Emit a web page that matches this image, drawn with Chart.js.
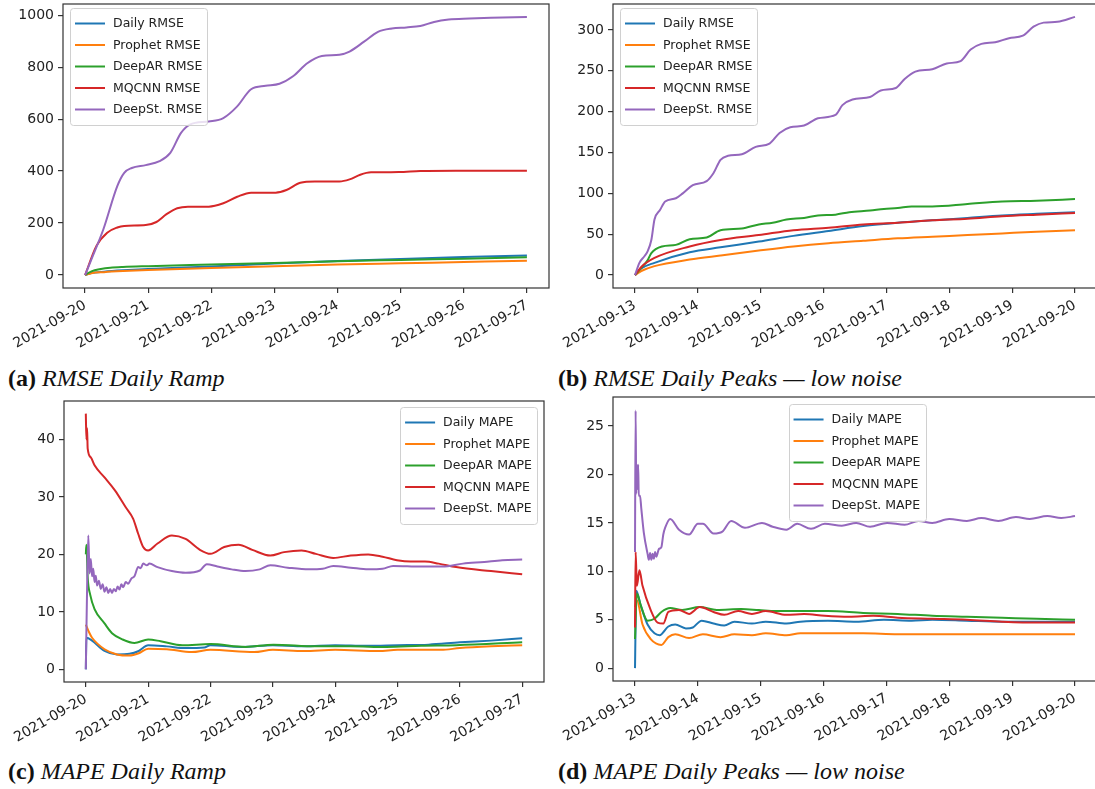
<!DOCTYPE html>
<html>
<head>
<meta charset="utf-8">
<script src="https://cdn.jsdelivr.net/npm/chart.js@4.4.1/dist/chart.umd.min.js"></script>
<style>
  html, body { margin: 0; padding: 0; background: #fff; }
  body { position: relative; width: 1095px; height: 789px; overflow: hidden; }
  canvas { position: absolute; display: block; }
  .cap { position: absolute; font-family: "Liberation Serif", "Times New Roman", serif; font-size: 24px;
         line-height: 1; color: #111; white-space: nowrap; }
  .cap b { font-weight: bold; }
  .cap i { font-style: italic; }
</style>
</head>
<body>
<canvas id="chartA" width="550" height="350" style="left:0;top:0"></canvas>
<canvas id="chartB" width="550" height="350" style="left:550px;top:0"></canvas>
<canvas id="chartC" width="550" height="350" style="left:0;top:393px"></canvas>
<canvas id="chartD" width="550" height="350" style="left:550px;top:393px"></canvas>
<div class="cap" style="left:8px;top:366px"><b>(a)</b> <i>RMSE Daily Ramp</i></div>
<div class="cap" style="left:558px;top:366px"><b>(b)</b> <i>RMSE Daily Peaks — low noise</i></div>
<div class="cap" style="left:8px;top:759px"><b>(c)</b> <i>MAPE Daily Ramp</i></div>
<div class="cap" style="left:558px;top:759px"><b>(d)</b> <i>MAPE Daily Peaks — low noise</i></div>
<script>
// ---- tick labels --------------------------------------------------------
const dayTicks = [0, 1, 2, 3, 4, 5, 6, 7];
const rampDates = ['2021-09-20', '2021-09-21', '2021-09-22', '2021-09-23', '2021-09-24', '2021-09-25', '2021-09-26', '2021-09-27'];
const peakDates = ['2021-09-13', '2021-09-14', '2021-09-15', '2021-09-16', '2021-09-17', '2021-09-18', '2021-09-19', '2021-09-20'];
const rmseTicksA = [0, 200, 400, 600, 800, 1000];
const rmseTicksB = [0, 50, 100, 150, 200, 250, 300];
const mapeTicksC = [0, 10, 20, 30, 40];
const mapeTicksD = [0, 5, 10, 15, 20, 25];

const models = ['Daily', 'Prophet', 'DeepAR', 'MQCNN', 'DeepSt.'];

// ---- series: [days since start, value] ----------------------------------
// (a) RMSE, daily ramp
const rampRmseDaily   = [[0,0],[0.1,8],[0.3,13],[0.6,18],[1,23],[2,33],[3,44],[4,54],[5,62],[6,69],[7,75]];
const rampRmseProphet = [[0,0],[0.1,7],[0.3,11],[0.6,15],[1,19],[2,27],[3,34],[4,40],[5,45],[6,50],[7,55]];
const rampRmseDeepAR  = [[0,0],[0.1,14],[0.25,23],[0.4,28],[0.6,31],[1,34],[2,40],[3,46],[4,53],[5,58],[6,63],[7,68]];
const rampRmseMqcnn   = [[0,0],[0.18,112],[0.35,163],[0.51,183],[0.62,189],[0.96,192],[1.13,204],[1.29,234],[1.46,257],
  [1.63,263],[1.96,263],[2.19,276],[2.41,301],[2.63,317],[3.02,317],[3.19,327],[3.41,355],[3.64,360],[4.03,360],
  [4.19,368],[4.36,386],[4.53,395],[4.97,396],[5.31,400],[5.87,401],[7,401]];
const rampRmseDeepSt  = [[0,0],[0.1,60],[0.29,176],[0.51,342],[0.62,393],[0.74,412],[0.96,423],[1.18,438],[1.35,470],
  [1.52,547],[1.66,579],[1.96,591],[2.19,604],[2.41,649],[2.63,715],[2.86,728],[3.08,736],[3.3,766],[3.52,815],
  [3.75,843],[4.03,848],[4.19,860],[4.42,898],[4.64,936],[4.86,949],[5.09,953],[5.31,958],[5.53,974],[5.76,983],
  [6.09,987],[6.43,990],[7,993]];

// (b) RMSE, daily peaks with low noise
const peakRmseDaily   = [[0,0],[0.1,8],[0.31,15],[0.87,28],[1.36,34],[1.97,41],[2.52,48],[3.08,54],[3.63,60],[4.18,64],
  [4.73,67],[5.29,70],[5.84,73],[6.39,75],[7,77]];
const peakRmseProphet = [[0,0],[0.1,5],[0.31,11],[0.87,19],[1.36,24],[1.97,30],[2.52,35],[3.08,39],[3.63,42],[4.18,45],
  [4.73,47],[5.29,49],[5.84,51],[6.39,53],[7,55]];
const peakRmseDeepAR  = [[0,0],[0.1,9],[0.2,18],[0.26,27],[0.43,35],[0.65,37],[0.87,44],[1.14,46],[1.36,55],[1.7,57],
  [1.97,62],[2.19,64],[2.41,68],[2.69,70],[2.91,73],[3.19,74],[3.41,77],[3.74,79],[3.96,81],[4.18,82],[4.4,84],
  [4.73,84],[5.29,87],[5.84,90],[6.39,91],[7,93]];
const peakRmseMqcnn   = [[0,0],[0.1,10],[0.31,21],[0.87,35],[1.36,43],[1.97,49],[2.52,55],[3.08,58],[3.63,62],[4.18,64],
  [4.73,67],[5.29,69],[5.84,72],[6.39,74],[7,76]];
const peakRmseDeepSt  = [[0,0],[0.07,15],[0.15,23],[0.2,29],[0.26,43],[0.31,68],[0.4,80],[0.48,90],[0.65,94],[0.76,100],
  [0.92,110],[1.14,115],[1.25,125],[1.36,141],[1.48,146],[1.7,148],[1.92,157],[2.14,161],[2.3,174],[2.47,181],
  [2.69,183],[2.91,192],[3.19,196],[3.3,208],[3.46,215],[3.74,218],[3.91,226],[4.15,229],[4.29,240],[4.46,249],
  [4.73,252],[4.96,259],[5.18,262],[5.34,276],[5.51,283],[5.73,285],[5.95,290],[6.17,293],[6.34,304],[6.5,309],
  [6.72,310],[7,316]];

// (c) MAPE, daily ramp
const rampMapeDaily   = [[0,0],[0.01,5.5],[0.1,5.0],[0.3,3.2],[0.5,2.6],[0.7,2.7],[0.85,3.2],[1.0,4.2],[1.3,4.0],[1.6,3.7],
  [1.9,3.8],[2.0,4.2],[2.5,3.9],[3.0,4.2],[3.5,4.0],[4.0,4.2],[4.5,4.1],[5.0,4.2],[5.5,4.3],[6.0,4.7],[6.5,5.0],[7,5.4]];
const rampMapeProphet = [[0,7.8],[0.05,6.5],[0.1,5.5],[0.3,3.5],[0.5,2.6],[0.7,2.4],[0.85,2.8],[1.0,3.6],[1.3,3.5],[1.7,3.0],
  [2.0,3.4],[2.7,3.0],[3.0,3.4],[3.5,3.2],[4.0,3.4],[4.7,3.2],[5.0,3.4],[5.7,3.4],[6.0,3.7],[6.5,4.0],[7,4.2]];
const rampMapeDeepAR  = [[0,20],[0.01,21.7],[0.03,16],[0.07,13],[0.14,10.5],[0.3,8],[0.42,6.3],[0.59,5.2],[0.78,4.6],[1.0,5.2],
  [1.2,4.9],[1.55,4.2],[2.0,4.4],[2.56,3.9],[3.01,4.3],[3.69,4.0],[4.25,4.0],[4.82,3.9],[5.38,4.1],[5.94,4.2],[7,4.7]];
const rampMapeMqcnn   = [[0,44.5],[0.01,40],[0.02,42],[0.03,38.4],[0.08,36.9],[0.14,35.5],[0.3,33.4],[0.47,31.1],[0.64,28.2],
  [0.76,26.2],[0.84,23.6],[0.92,21.3],[1.0,20.7],[1.15,21.9],[1.38,23.3],[1.6,22.7],[1.83,20.8],[2.0,20.1],[2.22,21.3],
  [2.45,21.7],[2.67,20.8],[2.96,19.8],[3.18,20.4],[3.46,20.7],[3.69,20.1],[3.97,19.4],[4.25,19.8],[4.53,20.0],
  [4.76,19.6],[4.99,19.0],[5.21,18.75],[5.44,18.75],[5.66,18.4],[5.94,17.8],[6.5,17.1],[7,16.55]];
const rampMapeDeepSt  = [[0,0],[0.02,13.8],[0.04,23.3],[0.06,16.7],[0.08,19.2],[0.1,16.2],[0.12,17.5],[0.14,15.2],[0.16,16.3],
  [0.18,14.6],[0.21,15.4],[0.24,14.0],[0.27,14.8],[0.3,13.5],[0.33,14.3],[0.36,13.3],[0.39,14.0],[0.42,13.3],[0.45,14.0],
  [0.48,13.6],[0.51,14.4],[0.54,13.9],[0.57,14.8],[0.6,14.3],[0.64,15.2],[0.68,14.9],[0.73,15.8],[0.78,16.2],[0.84,17.8],
  [0.88,17.6],[0.92,18.4],[0.98,18.1],[1.02,18.4],[1.15,17.8],[1.38,17.1],[1.6,16.8],[1.83,17.2],[1.94,18.3],[2.11,17.9],
  [2.34,17.4],[2.56,17.1],[2.79,17.4],[2.96,18.1],[3.24,17.7],[3.58,17.4],[3.8,17.5],[3.97,18.0],[4.25,17.7],[4.53,17.4],
  [4.76,17.5],[4.93,18.0],[5.38,17.9],[5.72,17.9],[6.05,18.4],[6.39,18.7],[6.68,19.0],[7,19.1]];

// (d) MAPE, daily peaks with low noise
const peakMapeDaily   = [[0,0],[0.02,8],[0.09,6.5],[0.2,4.5],[0.31,3.6],[0.39,3.4],[0.53,4.3],[0.64,4.5],[0.81,4.1],[0.92,4.2],
  [1.06,4.9],[1.25,4.6],[1.42,4.4],[1.58,4.8],[1.86,4.6],[2.08,4.8],[2.41,4.6],[2.63,4.8],[3.07,4.9],[3.52,4.8],[3.96,5.0],
  [4.4,4.9],[4.73,5.0],[5.28,4.9],[5.84,4.8],[6.39,4.8],[7,4.8]];
const peakMapeProphet = [[0,6.3],[0.03,7.0],[0.12,4.5],[0.25,3.0],[0.42,2.4],[0.53,3.2],[0.64,3.5],[0.86,3.1],[1.08,3.5],
  [1.36,3.2],[1.58,3.5],[1.86,3.4],[2.08,3.6],[2.41,3.4],[2.63,3.6],[3.07,3.6],[3.63,3.6],[4.18,3.5],[4.73,3.5],[5.28,3.5],
  [5.84,3.5],[6.39,3.5],[7,3.5]];
const peakMapeDeepAR  = [[0,3],[0.03,7.7],[0.09,6.5],[0.2,4.9],[0.31,5.1],[0.42,5.8],[0.56,6.2],[0.75,6.0],[1.03,6.3],[1.3,6.0],
  [1.69,6.1],[1.97,6.0],[2.24,5.9],[2.52,5.9],[3.07,5.9],[3.63,5.7],[4.18,5.6],[4.73,5.4],[5.28,5.3],[5.84,5.2],[6.39,5.1],[7,5.0]];
const peakMapeMqcnn   = [[0,4.2],[0.01,12],[0.03,8.5],[0.07,10.1],[0.12,8.5],[0.25,6.0],[0.36,4.7],[0.45,4.6],[0.53,5.8],[0.7,6.0],
  [0.86,5.6],[1.03,6.3],[1.25,5.8],[1.42,5.5],[1.64,5.9],[1.86,5.6],[2.08,5.9],[2.41,5.5],[2.69,5.6],[3.02,5.4],[3.41,5.3],
  [3.79,5.4],[4.18,5.2],[4.73,5.1],[5.28,5.0],[5.84,4.8],[6.39,4.7],[7,4.7]];
const peakMapeDeepSt  = [[0,12],[0.01,26.6],[0.02,18],[0.03,21],[0.04,18.5],[0.05,21],[0.06,17.8],[0.08,17.8],[0.1,16.5],
  [0.14,14],[0.2,11.8],[0.22,11.2],[0.24,11.9],[0.26,11.2],[0.28,11.8],[0.3,11.3],[0.32,12],[0.34,11.5],[0.38,12.3],
  [0.42,12.5],[0.45,13.8],[0.48,14.5],[0.56,15.4],[0.7,14.3],[0.86,13.8],[1.0,14.9],[1.08,14.9],[1.25,13.9],[1.39,14.1],
  [1.53,15.2],[1.75,14.5],[2.02,15.0],[2.19,14.6],[2.41,14.3],[2.58,14.9],[2.8,14.4],[3.02,14.9],[3.29,14.7],[3.52,15.0],
  [3.74,14.6],[4.01,15.0],[4.29,14.8],[4.51,15.2],[4.73,15.0],[5.0,15.4],[5.28,15.2],[5.51,15.5],[5.78,15.2],[6.06,15.6],
  [6.28,15.4],[6.56,15.7],[6.78,15.5],[7,15.7]];

// ---- styling --------------------------------------------------------------
const COLORS = ['#1f77b4', '#ff7f0e', '#2ca02c', '#d62728', '#9467bd'];
const TICK_FONT = { family: '"DejaVu Sans", sans-serif', size: 14 };
const LEGEND_FONT_SIZE = 12.5;
const TEXT_COLOR = '#222';
const SPINE_COLOR = '#333';

// axes frame on all four sides, drawn over the lines
const framePlugin = {
  id: 'frame',
  afterDatasetsDraw(chart) {
    const { ctx, chartArea: a } = chart;
    ctx.save();
    ctx.strokeStyle = SPINE_COLOR;
    ctx.lineWidth = 1.2;
    ctx.strokeRect(a.left, a.top, a.right - a.left, a.bottom - a.top);
    ctx.restore();
  }
};

// framed legend placed inside the axes
const boxLegendPlugin = {
  id: 'boxLegend',
  afterDraw(chart, args, opts) {
    const { ctx, chartArea: a } = chart;
    const fs = LEGEND_FONT_SIZE;
    const labels = chart.data.datasets.map(d => d.label);
    ctx.save();
    ctx.font = fs + 'px "DejaVu Sans", sans-serif';
    const tw = Math.max(...labels.map(l => ctx.measureText(l).width));
    const padX = 5, padY = 8, handle = 30, gap = 8, rowH = 15, spacing = 6.5;
    const w = padX * 2 + handle + gap + tw;
    const h = padY * 2 + labels.length * rowH + (labels.length - 1) * spacing;
    const inset = 7;
    let x0;
    if (opts.loc === 'upper left') x0 = a.left + inset;
    else if (opts.loc === 'upper right') x0 = a.right - inset - w;
    else x0 = (a.left + a.right) / 2 - w / 2 + 2;
    const y0 = a.top + (opts.top || 5);
    ctx.beginPath();
    ctx.roundRect(Math.round(x0) + 0.5, Math.round(y0) + 0.5, Math.round(w), Math.round(h), 3);
    ctx.fillStyle = 'rgba(255,255,255,0.8)';
    ctx.fill();
    ctx.strokeStyle = '#d0d0d0';
    ctx.lineWidth = 1;
    ctx.stroke();
    ctx.textBaseline = 'middle';
    ctx.textAlign = 'left';
    labels.forEach((l, i) => {
      const cy = y0 + padY + i * (rowH + spacing) + rowH / 2;
      ctx.strokeStyle = chart.data.datasets[i].borderColor;
      ctx.lineWidth = 2;
      ctx.beginPath();
      ctx.moveTo(x0 + padX, cy);
      ctx.lineTo(x0 + padX + handle, cy);
      ctx.stroke();
      ctx.fillStyle = TEXT_COLOR;
      ctx.fillText(l, x0 + padX + handle + gap, cy + 0.5);
    });
    ctx.restore();
  }
};

function clearScalePadding(s) {
  s.paddingTop = 0; s.paddingBottom = 0; s.paddingLeft = 0; s.paddingRight = 0;
}

function buildChart(id, cfg) {
  const datasets = cfg.series.map((pts, i) => ({
    label: models[i] + ' ' + cfg.metric,
    data: pts.map(p => ({ x: p[0], y: p[1] })),
    borderColor: COLORS[i],
    backgroundColor: COLORS[i],
    borderWidth: 2,
    pointRadius: 0,
    fill: false,
    cubicInterpolationMode: 'monotone',
    order: models.length - i
  }));
  const axisGrid = { drawOnChartArea: false, drawTicks: true, tickLength: 5, color: SPINE_COLOR, lineWidth: 1.2 };
  return new Chart(document.getElementById(id), {
    type: 'line',
    data: { datasets },
    options: {
      responsive: false,
      animation: false,
      devicePixelRatio: 1,
      layout: { padding: { top: cfg.padTop, right: cfg.padRight, left: 0, bottom: 0 } },
      plugins: {
        legend: { display: false },
        tooltip: { enabled: false },
        boxLegend: { loc: cfg.legendLoc, top: cfg.legendTop }
      },
      scales: {
        x: {
          type: 'linear',
          min: -0.35, max: 7.35,
          afterBuildTicks: s => { s.ticks = dayTicks.map(v => ({ value: v })); },
          afterFit: s => { s.height = cfg.xAxisH; clearScalePadding(s); },
          ticks: {
            autoSkip: false, minRotation: 30, maxRotation: 30, padding: 4,
            font: TICK_FONT, color: TEXT_COLOR,
            callback: (v, i) => cfg.dates[i]
          },
          grid: axisGrid,
          border: { display: false }
        },
        y: {
          type: 'linear',
          min: cfg.yMin, max: cfg.yMax,
          afterBuildTicks: s => { s.ticks = cfg.yTicks.map(v => ({ value: v })); },
          afterFit: s => { s.width = cfg.yAxisW; clearScalePadding(s); },
          ticks: { padding: 4, font: TICK_FONT, color: TEXT_COLOR, callback: v => String(v) },
          grid: axisGrid,
          border: { display: false }
        }
      }
    },
    plugins: [framePlugin, boxLegendPlugin]
  });
}

buildChart('chartA', {
  metric: 'RMSE', dates: rampDates, yTicks: rmseTicksA, yMin: -50, yMax: 1043,
  series: [rampRmseDaily, rampRmseProphet, rampRmseDeepAR, rampRmseMqcnn, rampRmseDeepSt],
  padTop: 4, padRight: 1, yAxisW: 63, xAxisH: 62, legendLoc: 'upper left', legendTop: 4
});
buildChart('chartB', {
  metric: 'RMSE', dates: peakDates, yTicks: rmseTicksB, yMin: -15.8, yMax: 331.8,
  series: [peakRmseDaily, peakRmseProphet, peakRmseDeepAR, peakRmseMqcnn, peakRmseDeepSt],
  padTop: 4, padRight: 3, yAxisW: 63, xAxisH: 62, legendLoc: 'upper left', legendTop: 4
});
buildChart('chartC', {
  metric: 'MAPE', dates: rampDates, yTicks: mapeTicksC, yMin: -2.2, yMax: 46.7,
  series: [rampMapeDaily, rampMapeProphet, rampMapeDeepAR, rampMapeMqcnn, rampMapeDeepSt],
  padTop: 8, padRight: 6, yAxisW: 64, xAxisH: 61, legendLoc: 'upper right', legendTop: 6
});
buildChart('chartD', {
  metric: 'MAPE', dates: peakDates, yTicks: mapeTicksD, yMin: -1.33, yMax: 28.0,
  series: [peakMapeDaily, peakMapeProphet, peakMapeDeepAR, peakMapeMqcnn, peakMapeDeepSt],
  padTop: 4, padRight: 3, yAxisW: 63, xAxisH: 62, legendLoc: 'upper center', legendTop: 7
});
</script>
</body>
</html>
